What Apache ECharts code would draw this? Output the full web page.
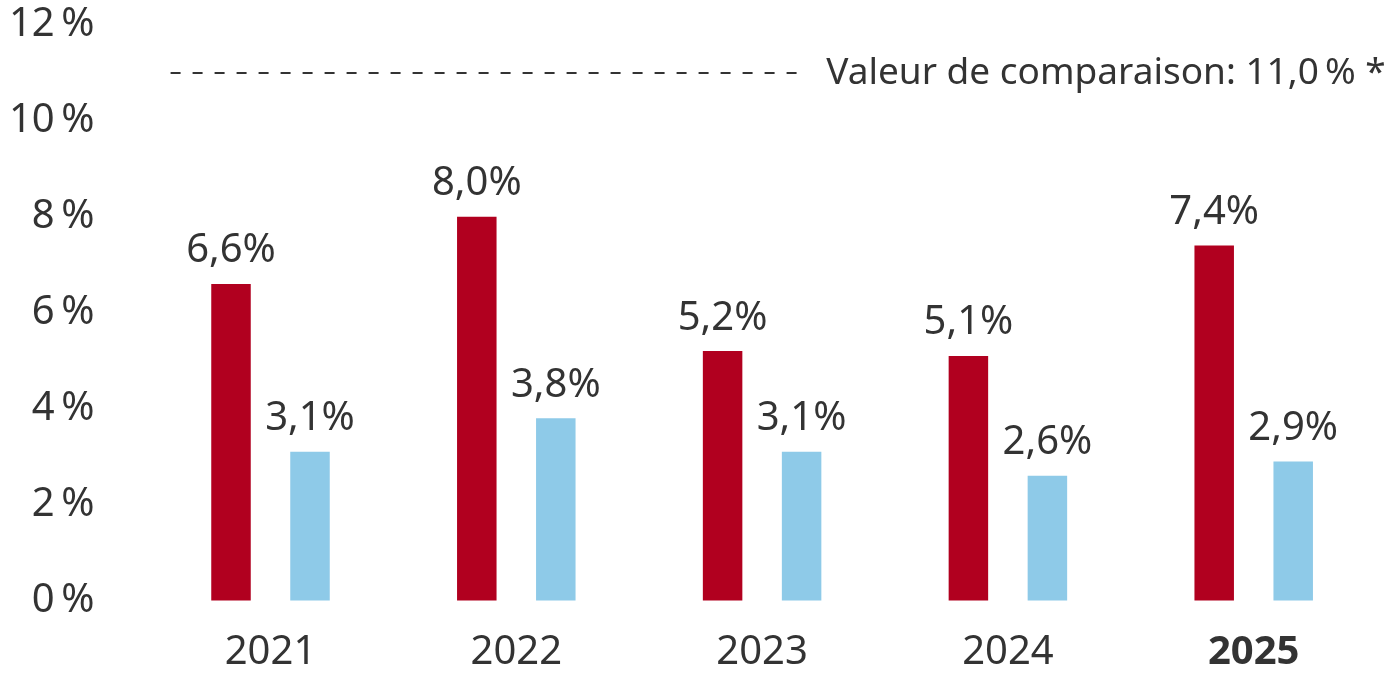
<!DOCTYPE html>
<html>
<head>
<meta charset="utf-8">
<script src="https://cdn.jsdelivr.net/npm/echarts@6/dist/echarts.min.js"></script>
<style>
html,body{margin:0;padding:0;background:#fff;}
#c{width:1392px;height:676px;}
</style>
</head>
<body>
<div id="c"></div>
<script>
const years = ['2021', '2022', '2023', '2024', '2025'];
const seriesRed = [6.6, 8.0, 5.2, 5.1, 7.4];
const seriesBlue = [3.1, 3.8, 3.1, 2.6, 2.9];
const yTicks = [0, 2, 4, 6, 8, 10, 12];
const refValue = 11.0;
const refLabel = 'Valeur de comparaison: 11,0\u2009% *';

const FONT = '"Noto Sans", sans-serif';
const TXT = '#333333';
const fmtPct = v => v.toFixed(1).replace('.', ',') + '%';

const chart = echarts.init(document.getElementById('c'), null, {renderer: 'canvas'});
chart.setOption({
  animation: false,
  backgroundColor: '#ffffff',
  grid: {left: 147.6, right: 15.4, top: 25, bottom: 75.5},
  xAxis: [{
    type: 'category',
    data: years,
    axisLine: {show: false},
    axisTick: {show: false},
    axisLabel: {
      margin: 32,
      color: TXT,
      fontFamily: FONT,
      fontSize: 40,
      formatter: v => v === '2025' ? '{b|' + v + '}' : v,
      rich: {b: {fontWeight: 'bold', fontSize: 40, fontFamily: FONT, color: TXT}}
    }
  }, {
    type: 'value',
    min: 0, max: 1,
    show: false
  }],
  yAxis: {
    type: 'value',
    min: yTicks[0],
    max: yTicks[yTicks.length - 1],
    interval: 2,
    axisLine: {show: false},
    axisTick: {show: false},
    splitLine: {show: false},
    axisLabel: {
      margin: 53,
      color: TXT,
      fontFamily: FONT,
      fontSize: 40,
      formatter: v => v + '\u2009%'
    }
  },
  series: [{
    type: 'bar',
    data: seriesRed,
    barWidth: 39.5,
    barGap: '100%',
    itemStyle: {color: '#B1001F'},
    label: {
      show: true, position: 'top', distance: 13,
      color: TXT, fontFamily: FONT, fontSize: 40,
      formatter: p => fmtPct(p.value)
    }
  }, {
    type: 'bar',
    data: seriesBlue,
    barWidth: 39.5,
    itemStyle: {color: '#8ECAE8'},
    label: {
      show: true, position: 'top', distance: 13,
      color: TXT, fontFamily: FONT, fontSize: 40,
      formatter: p => fmtPct(p.value)
    }
  }, {
    type: 'line',
    xAxisIndex: 1,
    data: [[0.0187, refValue], [0.531, refValue]],
    symbol: 'none',
    lineStyle: {color: TXT, width: 2, type: [10, 12]},
    endLabel: {
      show: true,
      distance: 26,
      color: TXT,
      fontFamily: FONT,
      fontSize: 37,
      formatter: () => refLabel
    },
    silent: true
  }]
});
</script>
</body>
</html>
